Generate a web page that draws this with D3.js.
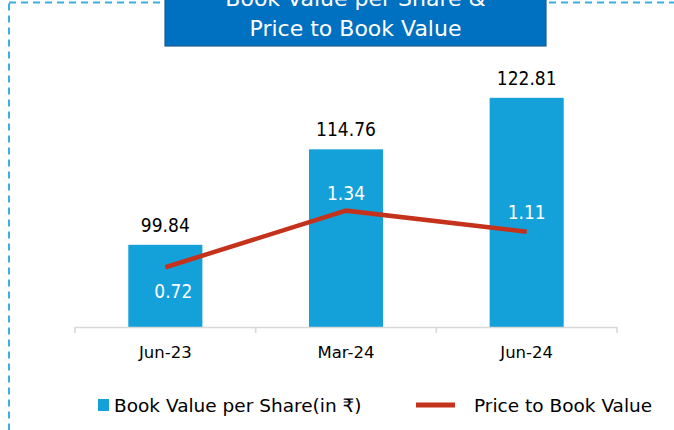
<!DOCTYPE html>
<html>
<head>
<meta charset="utf-8">
<script src="https://cdn.jsdelivr.net/npm/d3@7/dist/d3.min.js"></script>
<style>
  html, body { margin: 0; padding: 0; background: #fff; }
  svg { display: block; }
  text { font-family: "DejaVu Sans", sans-serif; }
  text.num { font-family: "DejaVu Sans Condensed", "DejaVu Sans", sans-serif; }
</style>
</head>
<body>
<svg id="chart" width="674" height="430"></svg>
<script>
// Periods on the x axis
const categories = ["Jun-23", "Mar-24", "Jun-24"];
// Book value per share (in ₹)
const bookValue = [99.84, 114.76, 122.81];
// Price to book value ratio
const priceToBook = [0.72, 1.34, 1.11];
const titleLines = ["Book Value per Share &", "Price to Book Value"];
const legendLabels = ["Book Value per Share(in \u20B9)", "Price to Book Value"];

const W = 674, H = 430;
const svg = d3.select("#chart");

const barColor = "#14A1DA";
const lineColor = "#C4321C";
const borderColor = "#3BAEE2";

// dashed frame around the panel
svg.append("rect")
  .attr("x", 9).attr("y", 2.5)
  .attr("width", W + 20).attr("height", H + 20)
  .attr("fill", "none")
  .attr("stroke", borderColor)
  .attr("stroke-width", 2)
  .attr("stroke-dasharray", "7,5");

// plot area
const plot = { left: 75, right: 617, base: 327 };

const x = d3.scaleBand()
  .domain(categories)
  .range([plot.left, plot.right])
  .paddingInner(0.59)
  .paddingOuter(0.295);

const yBar = d3.scaleLinear()
  .domain([87, 127])
  .range([plot.base, plot.base - 256]);

const yLine = d3.scaleLinear()
  .domain([0, 2])
  .range([333, 150.4]);

const cx = i => x(categories[i]) + x.bandwidth() / 2;

// bars
svg.append("g").selectAll("rect")
  .data(bookValue)
  .join("rect")
  .attr("x", (d, i) => x(categories[i]))
  .attr("y", d => yBar(d))
  .attr("width", x.bandwidth())
  .attr("height", d => plot.base - yBar(d))
  .attr("fill", barColor);

// category axis: baseline with ticks on the category boundaries
const gAxis = svg.append("g")
  .attr("transform", `translate(0,${plot.base})`);
gAxis.append("line")
  .attr("x1", plot.left).attr("x2", plot.right)
  .attr("y1", 0.5).attr("y2", 0.5)
  .attr("stroke", "#D9D9D9").attr("stroke-width", 1.6);
d3.range(categories.length + 1).forEach(i => {
  const bx = plot.left + x.step() * i;
  gAxis.append("line")
    .attr("x1", bx).attr("x2", bx)
    .attr("y1", 0).attr("y2", 6)
    .attr("stroke", "#D9D9D9").attr("stroke-width", 1.6);
});

// category labels
svg.append("g").selectAll("text")
  .data(categories)
  .join("text")
  .attr("x", (d, i) => cx(i))
  .attr("y", 358)
  .attr("text-anchor", "middle")
  .attr("font-size", 16.5)
  .attr("fill", "#000")
  .text(d => d);

// bar value labels
svg.append("g").selectAll("text")
  .data(bookValue)
  .join("text")
  .attr("class", "num")
  .attr("x", (d, i) => cx(i))
  .attr("y", d => yBar(d) - 13)
  .attr("text-anchor", "middle")
  .attr("font-size", 19)
  .attr("fill", "#000")
  .text(d => d.toFixed(2));

// price to book line
const line = d3.line()
  .x((d, i) => cx(i))
  .y(d => yLine(d));
svg.append("path")
  .datum(priceToBook)
  .attr("d", line)
  .attr("fill", "none")
  .attr("stroke", lineColor)
  .attr("stroke-width", 4.5);

// line value labels (first below the point, others above)
const lineLabelOffset = [31, -11, -13];
svg.append("g").selectAll("text")
  .data(priceToBook)
  .join("text")
  .attr("class", "num")
  .attr("x", (d, i) => cx(i) + (i === 0 ? 8 : 0))
  .attr("y", (d, i) => yLine(d) + lineLabelOffset[i])
  .attr("text-anchor", "middle")
  .attr("font-size", 19)
  .attr("fill", "#fff")
  .text(d => d.toFixed(2));

// title banner
const title = svg.append("g");
title.append("rect")
  .attr("x", 165).attr("y", -10)
  .attr("width", 381).attr("height", 56)
  .attr("fill", "#0070C0")
  .attr("stroke", "#1D5A94")
  .attr("stroke-width", 1.2);
title.selectAll("text")
  .data(titleLines)
  .join("text")
  .attr("x", 355.5)
  .attr("y", (d, i) => 6 + i * 30)
  .attr("text-anchor", "middle")
  .attr("font-size", 22)
  .attr("fill", "#fff")
  .text(d => d);

// legend
const legend = svg.append("g");
legend.append("rect")
  .attr("x", 98).attr("y", 399)
  .attr("width", 11).attr("height", 12)
  .attr("fill", barColor);
legend.append("text")
  .attr("x", 114).attr("y", 412)
  .attr("font-size", 18.5)
  .attr("fill", "#000")
  .text(legendLabels[0]);
legend.append("line")
  .attr("x1", 416).attr("x2", 455)
  .attr("y1", 405).attr("y2", 405)
  .attr("stroke", lineColor)
  .attr("stroke-width", 5);
legend.append("text")
  .attr("x", 474).attr("y", 412)
  .attr("font-size", 18.5)
  .attr("fill", "#000")
  .text(legendLabels[1]);
</script>
</body>
</html>
